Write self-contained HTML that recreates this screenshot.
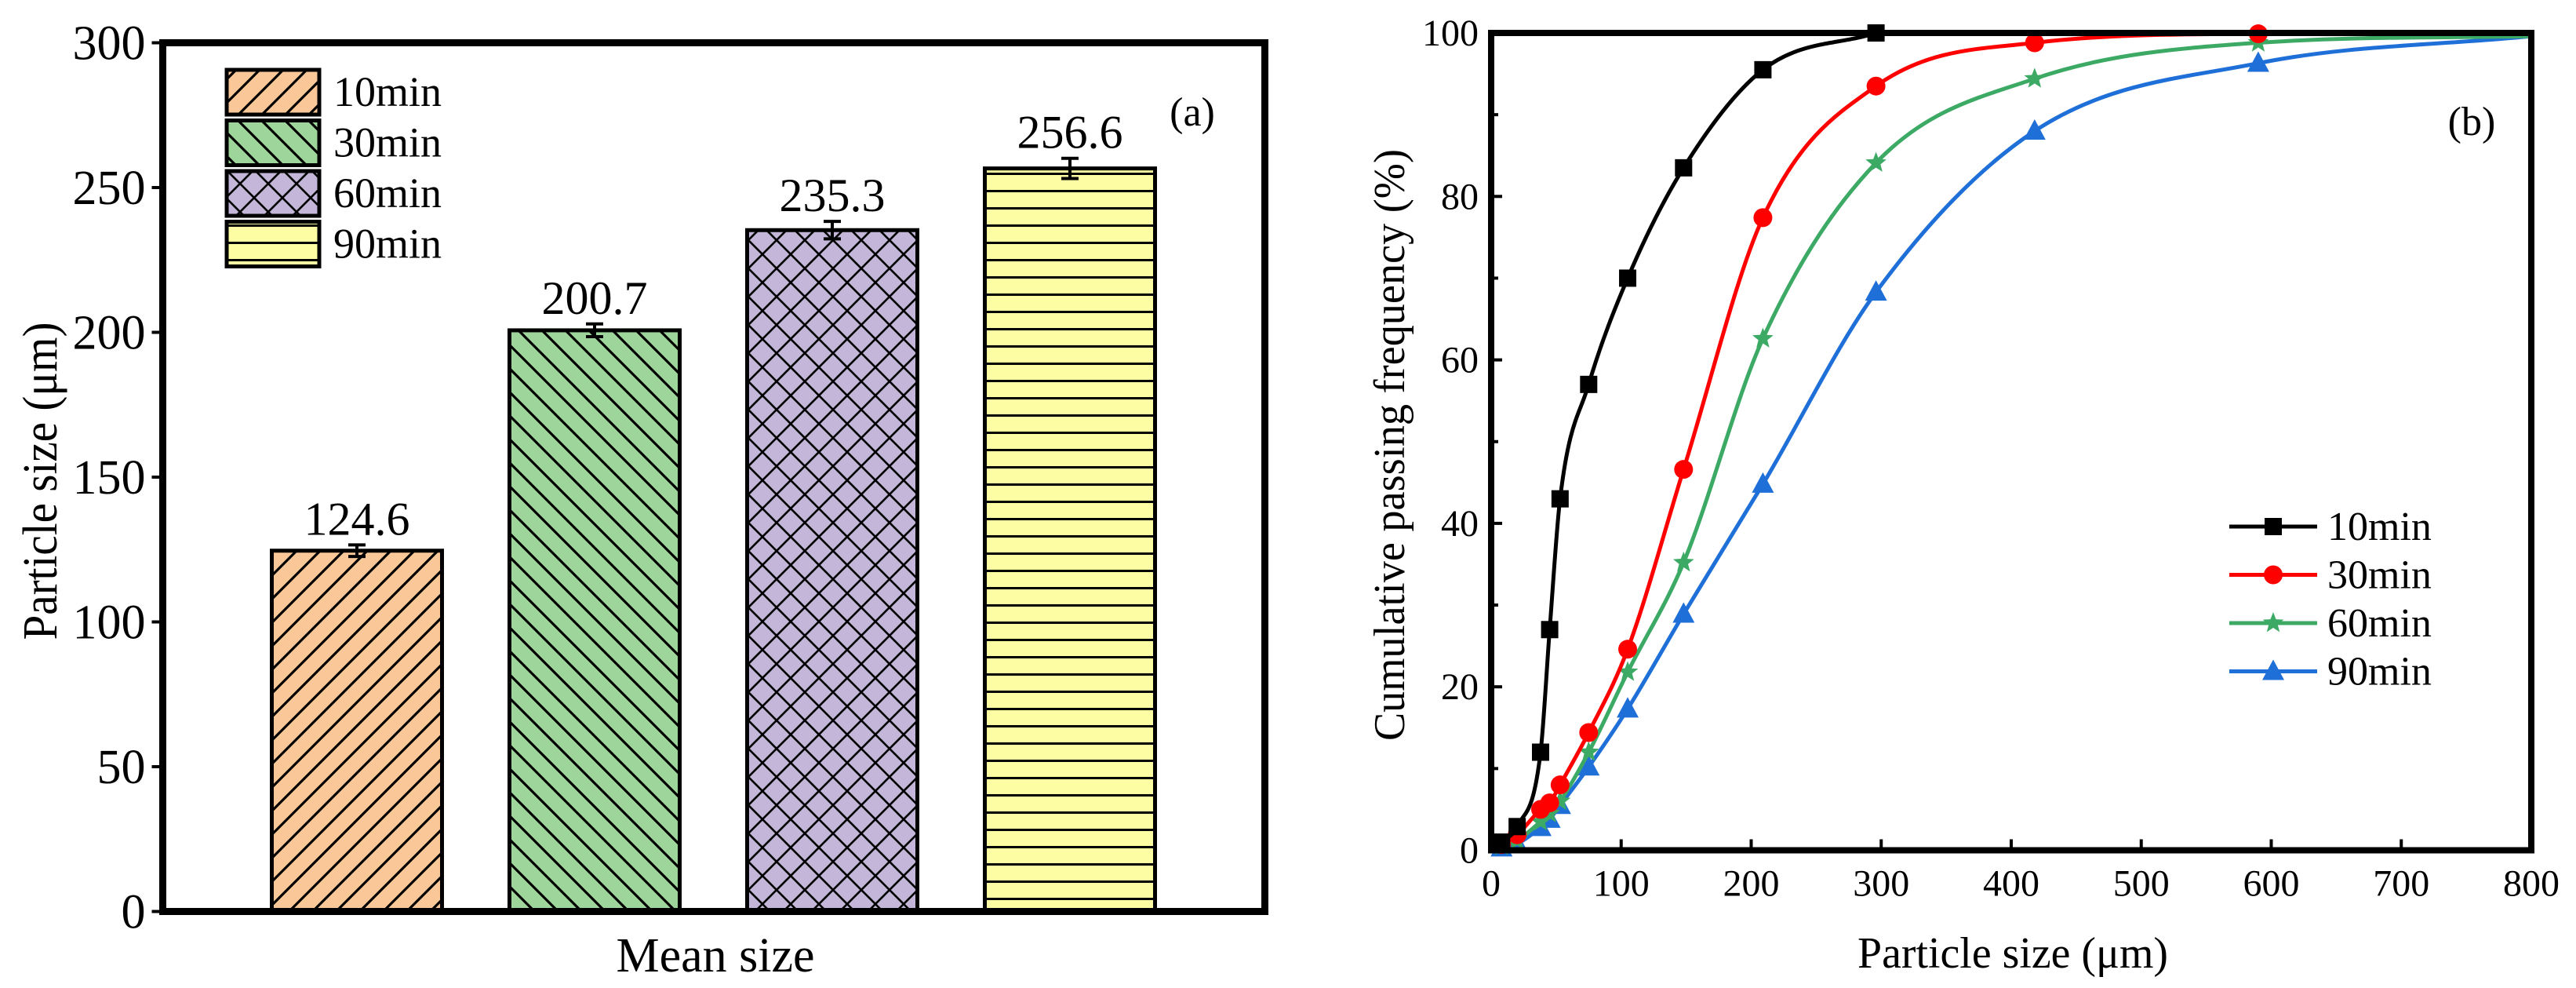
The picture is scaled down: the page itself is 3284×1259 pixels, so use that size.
<!DOCTYPE html>
<html><head><meta charset="utf-8">
<style>
html,body{margin:0;padding:0;background:#fff;}
svg{display:block;}
svg text{font-family:"Liberation Serif","Times New Roman",serif;}
</style></head>
<body>
<svg id="fig" width="3284" height="1259" viewBox="0 0 3284 1259" xmlns="http://www.w3.org/2000/svg" font-family="Liberation Serif, serif">
<defs>
<pattern id="hOrange" patternUnits="userSpaceOnUse" width="30" height="30"><rect width="30" height="30" fill="#FAC898"/><path d="M-5,35 L35,-5 M-20,20 L20,-20 M10,50 L50,10" stroke="#000" stroke-width="3.2"/></pattern>
<pattern id="hGreen" patternUnits="userSpaceOnUse" width="30" height="30"><rect width="30" height="30" fill="#9ED59A"/><path d="M-5,-5 L35,35 M10,-20 L50,20 M-20,10 L20,50" stroke="#000" stroke-width="3.2"/></pattern>
<pattern id="hPurple" patternUnits="userSpaceOnUse" width="36" height="36"><rect width="36" height="36" fill="#C3B6D8"/><path d="M-2,-2 L38,38 M-2,38 L38,-2" stroke="#000" stroke-width="2.6"/></pattern>
<pattern id="hYellow" patternUnits="userSpaceOnUse" width="30" height="22"><rect width="30" height="22" fill="#FDFDA3"/><path d="M0,1.5 L30,1.5" stroke="#000" stroke-width="3"/></pattern>
</defs>
<g id="left"></g>
<g id="right"></g>
</svg>
<script>
// ---------- Chart (a) data ----------
const barCategories = ["10min", "30min", "60min", "90min"];
const barValues = [124.6, 200.7, 235.3, 256.6];
const barErrors = [2.0, 2.2, 3.0, 3.5];
const barLabels = ["124.6", "200.7", "235.3", "256.6"];
const barYTicks = [0, 50, 100, 150, 200, 250, 300];

// ---------- Chart (b) data ----------
const sizeX = [8, 20, 38, 45, 53, 75, 105, 148, 209, 296, 418, 590, 800];
const series10 = [1, 2.9, 12, 27, 43, 57, 70, 83.5, 95.5, 100];
const series30 = [0.7, 1.9, 5, 5.8, 8, 14.4, 24.6, 46.6, 77.4, 93.5, 98.8, 99.9, 100];
const series60 = [0.5, 1.2, 3.5, 4.5, 6, 12, 21.8, 35.2, 62.6, 84.1, 94.4, 98.8, 99.6];
const series90 = [0.3, 0.8, 2.8, 3.8, 5.5, 10.2, 17.3, 28.9, 44.8, 68.3, 88, 96.3, 99.6];
const lineXTicks = [0, 100, 200, 300, 400, 500, 600, 700, 800];
const lineYTicks = [0, 20, 40, 60, 80, 100];
const lineNames = ["10min", "30min", "60min", "90min"];

const NS = "http://www.w3.org/2000/svg";
const SERIF = "Liberation Serif, Times New Roman, serif";
function mk(parent, tag, attrs, text) {
  const e = document.createElementNS(NS, tag);
  for (const k in attrs) e.setAttribute(k, attrs[k]);
  if (tag === 'text') e.setAttribute('font-family', SERIF);
  if (text !== undefined) e.textContent = text;
  parent.appendChild(e);
  return e;
}

// ================= Chart (a) =================
const L = document.getElementById('left');
const aX0 = 207.5, aX1 = 1612.5, aY0 = 1161.5, aY1 = 54.5;
const ay = v => aY0 - (v - 0) / 300 * (aY0 - aY1);
const barCenters0 = 455, barStep = 303, barW = 217;
const bx = i => barCenters0 + i * barStep;
const fills = ["url(#hOrange)", "url(#hGreen)", "url(#hPurple)", "url(#hYellow)"];

barValues.forEach((v, i) => {
  const r = mk(L, 'rect', {x: bx(i) - barW/2, y: ay(v), width: barW, height: ay(0) - ay(v), fill: fills[i], stroke: '#000', 'stroke-width': 5});
  
  
  const e = barErrors[i];
  const eb = mk(L, 'path', {d: `M${bx(i)},${ay(v+e)} V${ay(v-e)} M${bx(i)-11},${ay(v+e)} H${bx(i)+11} M${bx(i)-11},${ay(v-e)} H${bx(i)+11}`, stroke: '#000', 'stroke-width': 4, fill: 'none'});
  
  
  const t = mk(L, 'text', {x: bx(i), y: ay(v + e) - 13, 'font-size': 60, 'text-anchor': 'middle'}, barLabels[i]);
  
  
});

const fa = mk(L, 'rect', {x: aX0, y: aY1, width: aX1 - aX0, height: aY0 - aY1, fill: 'none', stroke: '#000', 'stroke-width': 9});



barYTicks.forEach(v => {
  const tk = mk(L, 'line', {x1: aX0 - 14, x2: aX0, y1: ay(v), y2: ay(v), stroke: '#000', 'stroke-width': 4});
  
  
  const t = mk(L, 'text', {x: aX0 - 22, y: ay(v) + 21, 'font-size': 62, 'text-anchor': 'end'}, String(v));
  
  
});
const yta = mk(L, 'text', {x: 0, y: 0, 'font-size': 62, 'text-anchor': 'middle', transform: 'translate(72,613) rotate(-90)', textLength: 405, lengthAdjust: 'spacingAndGlyphs'}, 'Particle size (μm)');


const xta = mk(L, 'text', {x: 912, y: 1238, 'font-size': 62, 'text-anchor': 'middle'}, 'Mean size');


const pa = mk(L, 'text', {x: 1520, y: 160, 'font-size': 52, 'text-anchor': 'middle'}, '(a)');



barCategories.forEach((c, i) => {
  const y = 89 + i * 64.5;
  const r = mk(L, 'rect', {x: 289, y: y, width: 118, height: 57, fill: fills[i], stroke: '#000', 'stroke-width': 5});
  
  
  const t = mk(L, 'text', {x: 425, y: y + 46, 'font-size': 54}, c);
  
  
});

// ================= Chart (b) =================
const R = document.getElementById('right');
const bX0 = 1901, bX1 = 3227, bY0 = 1083.5, bY1 = 42;
const px = v => bX0 + v / 800 * (bX1 - bX0);
const py = v => bY0 - v / 100 * (bY0 - bY1);

function smoothPath(xs, ys) {
  const n = xs.length;
  const d = [], m = new Array(n);
  for (let i = 0; i < n - 1; i++) d.push((ys[i+1]-ys[i])/(xs[i+1]-xs[i]));
  m[0] = d[0]; m[n-1] = d[n-2];
  for (let i = 1; i < n - 1; i++) m[i] = (d[i-1]*d[i] <= 0) ? 0 : (d[i-1]+d[i])/2;
  for (let i = 0; i < n - 1; i++) {
    if (d[i] === 0) { m[i] = 0; m[i+1] = 0; continue; }
    const a = m[i]/d[i], b = m[i+1]/d[i], s = a*a + b*b;
    if (s > 9) { const t = 3/Math.sqrt(s); m[i] = t*a*d[i]; m[i+1] = t*b*d[i]; }
  }
  let p = `M${xs[0]},${ys[0]}`;
  for (let i = 0; i < n - 1; i++) {
    const h = xs[i+1]-xs[i];
    p += ` C${xs[i]+h/3},${ys[i]+m[i]*h/3} ${xs[i+1]-h/3},${ys[i+1]-m[i+1]*h/3} ${xs[i+1]},${ys[i+1]}`;
  }
  return p;
}
function marker(g, type, x, y, color) {
  let e;
  if (type === 'square') e = mk(g, 'rect', {x: x-11, y: y-11, width: 22, height: 22, fill: color});
  else if (type === 'circle') e = mk(g, 'circle', {cx: x, cy: y, r: 12, fill: color});
  else if (type === 'triangle') e = mk(g, 'path', {d: `M${x},${y-15} L${x+14},${y+11} L${x-14},${y+11} Z`, fill: color});
  else {
    let p = '';
    for (let k = 0; k < 10; k++) {
      const rr = k % 2 ? 6 : 14, a = -Math.PI/2 + k * Math.PI/5;
      p += (k ? 'L' : 'M') + (x + rr*Math.cos(a)) + ',' + (y + rr*Math.sin(a));
    }
    e = mk(g, 'path', {d: p + 'Z', fill: color});
  }
  return e;
}
const allSeries = [series10, series30, series60, series90];
const colors = ["#000000", "#FF0000", "#3CAA64", "#1F6FD9"];
const mtypes = ["square", "circle", "star", "triangle"];

[3, 2, 1, 0].forEach(s => {
  const vals = allSeries[s];
  const g = mk(R, 'g', {});
  
  
  const xs = vals.map((v, i) => px(sizeX[i]));
  const ys = vals.map(v => py(v));
  const ln = mk(g, 'path', {d: smoothPath(xs, ys), fill: 'none', stroke: colors[s], 'stroke-width': 5});
  
  
  vals.forEach((v, i) => {
    if (sizeX[i] >= 800) return;
    const mm = marker(g, mtypes[s], px(sizeX[i]), py(v), colors[s]);
    
    
  });
});

const fb = mk(R, 'rect', {x: bX0, y: bY1, width: bX1 - bX0, height: bY0 - bY1, fill: 'none', stroke: '#000', 'stroke-width': 8});



lineXTicks.forEach(v => {
  const tk = mk(R, 'line', {x1: px(v), x2: px(v), y1: bY0, y2: bY0 - 14, stroke: '#000', 'stroke-width': 4});
  
  
  const t = mk(R, 'text', {x: px(v), y: bY0 + 58, 'font-size': 48, 'text-anchor': 'middle'}, String(v));
  
  
});
lineYTicks.forEach((v, i) => {
  const tk = mk(R, 'line', {x1: bX0, x2: bX0 + 14, y1: py(v), y2: py(v), stroke: '#000', 'stroke-width': 4});
  
  
  if (i < lineYTicks.length - 1) {
    const mv = (v + lineYTicks[i+1]) / 2;
    const mt = mk(R, 'line', {x1: bX0, x2: bX0 + 9, y1: py(mv), y2: py(mv), stroke: '#000', 'stroke-width': 4});
    
    
  }
  const t = mk(R, 'text', {x: bX0 - 16, y: py(v) + 16, 'font-size': 48, 'text-anchor': 'end'}, String(v));
  
  
});
const ytb = mk(R, 'text', {x: 0, y: 0, 'font-size': 56, 'text-anchor': 'middle', transform: 'translate(1790,567) rotate(-90)', textLength: 754, lengthAdjust: 'spacingAndGlyphs'}, 'Cumulative passing frequency (%)');


const xtb = mk(R, 'text', {x: 2566, y: 1233, 'font-size': 56, 'text-anchor': 'middle', textLength: 396, lengthAdjust: 'spacingAndGlyphs'}, 'Particle size (μm)');


const pb = mk(R, 'text', {x: 3151, y: 172, 'font-size': 52, 'text-anchor': 'middle'}, '(b)');



lineNames.forEach((nm, i) => {
  const y = 671 + i * 61.5;
  const g = mk(R, 'g', {});
  
  
  mk(g, 'line', {x1: 2842, x2: 2954, y1: y, y2: y, stroke: colors[i], 'stroke-width': 5});
  marker(g, mtypes[i], 2898, y, colors[i]);
  mk(g, 'text', {x: 2967, y: y + 17, 'font-size': 52}, nm);
});
</script>
</body></html>
